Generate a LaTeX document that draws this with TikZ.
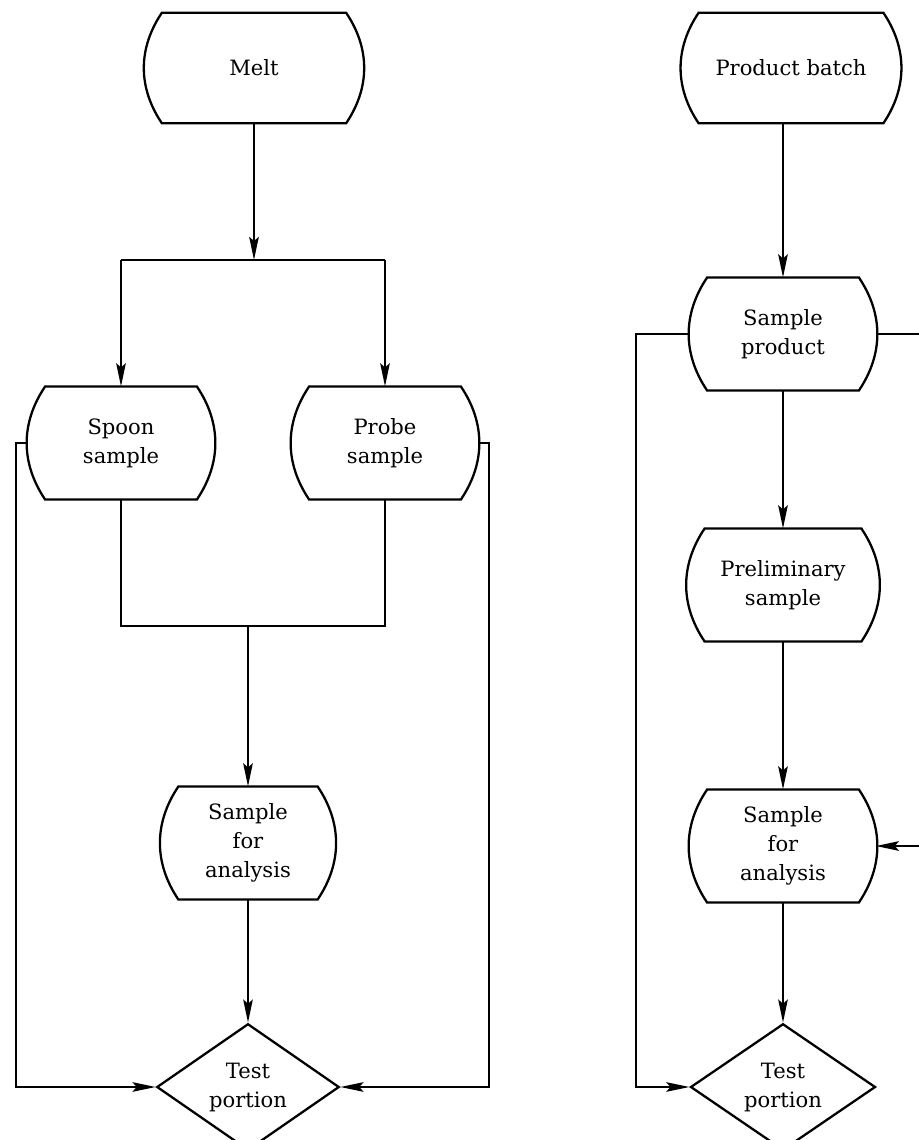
\documentclass[tikz,border=0pt]{standalone}
\usepackage{fontspec}
\setmainfont{DejaVu Serif}
\usetikzlibrary{shapes.geometric,arrows.meta}

% outline of a sampling step: flat top and bottom, bulging sides
\newcommand{\barrel}[1]{%
  \draw[line] ([xshift=3.4mm]#1.north west) -- ([xshift=-3.4mm]#1.north east)
    to[out=-56,in=56] ([xshift=-3.4mm]#1.south east)
    -- ([xshift=3.4mm]#1.south west)
    to[out=124,in=-124] ([xshift=3.4mm]#1.north west) -- cycle;}

\begin{document}
\begin{tikzpicture}[x=0.02cm, y=-0.02cm,
    line/.style = {line width=1.3pt},
    flow/.style = {line, -{Stealth[length=4.6mm,width=1.9mm,inset=0.8mm]}},
    proc/.style = {minimum width=3.7cm, minimum height=2.25cm, inner sep=0pt,
                   align=center, font=\fontsize{12}{16.5}\selectfont},
    test/.style = {draw, line, diamond, minimum width=3.65cm, minimum height=2.2cm,
                   inner sep=0pt, align=center, font=\fontsize{12}{16.5}\selectfont}]

    \clip (0,0) rectangle (919,1140);

    % melt
    \node[proc, minimum width=4.35cm, minimum height=2.2cm] (melt) at (254,68) {Melt};
    \node[proc] (spoon) at (121,443) {Spoon\\sample};
    \node[proc] (probe) at (385,443) {Probe\\sample};
    \node[proc, minimum width=3.45cm] (anal1) at (248,843) {Sample\\for\\analysis};
    \node[test] (test1) at (248,1087) {Test\\portion};

    \coordinate (forkL) at (121,260);
    \coordinate (forkR) at (385,260);
    \coordinate (joinL) at (121,626);
    \coordinate (joinR) at (385,626);

    \draw[flow] (melt) -- (melt |- forkL);
    \draw[line] (forkL) -- (forkR);
    \draw[flow] (forkL) -- (spoon);
    \draw[flow] (forkR) -- (probe);
    \draw[line] (spoon) -- (joinL) -- (joinR) -- (probe);
    \draw[flow] (anal1 |- joinL) -- (anal1);
    \draw[flow] (anal1) -- (test1);
    \draw[flow] (spoon.west) -- ++(-12,0) |- (test1.west);
    \draw[flow] (probe.east) -- ++(11,0) |- (test1.east);

    % product batch
    \node[proc, minimum width=4.36cm, minimum height=2.2cm] (batch) at (791,68) {Product batch};
    \node[proc] (sprod) at (783,334) {Sample\\product};
    \node[proc, minimum width=3.8cm] (prelim) at (783,585) {Preliminary\\sample};
    \node[proc] (anal2) at (783,846) {Sample\\for\\analysis};
    \node[test, minimum width=3.7cm] (test2) at (783,1087) {Test\\portion};

    \draw[flow] (batch.south -| sprod) -- (sprod);
    \draw[flow] (sprod) -- (prelim);
    \draw[flow] (prelim) -- (anal2);
    \draw[flow] (anal2) -- (test2);
    \draw[flow] (sprod.west) -- ++(-54,0) |- (test2.west);
    \draw[flow] (sprod.east) -- ++(60,0) |- (anal2.east);

    \foreach \n in {melt,spoon,probe,anal1,batch,sprod,prelim,anal2}
        \barrel{\n};
\end{tikzpicture}
\end{document}
